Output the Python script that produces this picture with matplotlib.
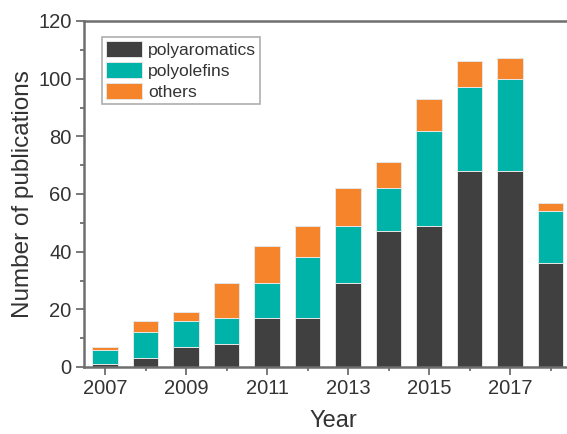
import matplotlib
matplotlib.use("Agg")
import matplotlib.pyplot as plt
from matplotlib.ticker import MultipleLocator

plt.rcParams["font.family"] = ["Liberation Sans", "DejaVu Sans"]

years = [2007, 2008, 2009, 2010, 2011, 2012, 2013, 2014, 2015, 2016, 2017, 2018]
polyaromatics = [1, 3, 7, 8, 17, 17, 29, 47, 49, 68, 68, 36]
polyolefins = [5, 9, 9, 9, 12, 21, 20, 15, 33, 29, 32, 18]
others = [1, 4, 3, 12, 13, 11, 13, 9, 11, 9, 7, 3]
series_names = ["polyaromatics", "polyolefins", "others"]
colors = ["#404040", "#00b3a9", "#f5842b"]

W, H = 567, 434
fig = plt.figure(figsize=(W / 100, H / 100), dpi=100)

x_left, x_right = 2006.48, 2018.8
px_per_year = 40.5
ax_left_px, ax_top_px, ax_bottom_px = 84, 21, 367
ax_w_px = (x_right - x_left) * px_per_year
ax = fig.add_axes([ax_left_px / W, 1 - ax_bottom_px / H,
                   ax_w_px / W, (ax_bottom_px - ax_top_px) / H])

text_c = "#333333"
spine_c = "#6e6e6e"

bottom = [0] * len(years)
for name, vals, c in zip(series_names, [polyaromatics, polyolefins, others], colors):
    ax.bar(years, vals, width=0.63, bottom=bottom, color=c, label=name,
           edgecolor="#e6e6e6", linewidth=0.7, zorder=2)
    bottom = [b + v for b, v in zip(bottom, vals)]

ax.set_xlim(x_left, x_right)
ax.set_ylim(0, 120)
ax.yaxis.set_major_locator(MultipleLocator(20))
ax.yaxis.set_minor_locator(MultipleLocator(10))
ax.set_xticks([2007, 2009, 2011, 2013, 2015, 2017])
ax.set_xticks(years, minor=True)

for s in ["left", "bottom", "top", "right"]:
    ax.spines[s].set_color(spine_c)
    ax.spines[s].set_linewidth(1.8)

ax.tick_params(which="major", direction="out", length=5.5, width=1.3,
               color=spine_c, labelsize=14.5, labelcolor=text_c, pad=3.5)
ax.tick_params(which="minor", direction="out", length=3, width=1.3, color=spine_c)
ax.tick_params(axis="x", which="both", top=False)
ax.tick_params(axis="y", which="both", right=False)

ax.set_xlabel("Year", fontsize=17, color=text_c, labelpad=8)
ax.set_ylabel("Number of publications", fontsize=17.5, color=text_c, labelpad=3)

leg = ax.legend(loc="upper left", bbox_to_anchor=(102 / W, 1 - 37 / H),
                bbox_transform=fig.transFigure, fontsize=12.6, frameon=True,
                fancybox=False, edgecolor="#9a9a9a", handlelength=2.05,
                handleheight=1.0, handletextpad=0.35, labelspacing=0.25,
                borderpad=0.22, borderaxespad=0)
leg.get_frame().set_linewidth(1.2)
for t in leg.get_texts():
    t.set_color(text_c)

fig.savefig("out.png", dpi=100)
